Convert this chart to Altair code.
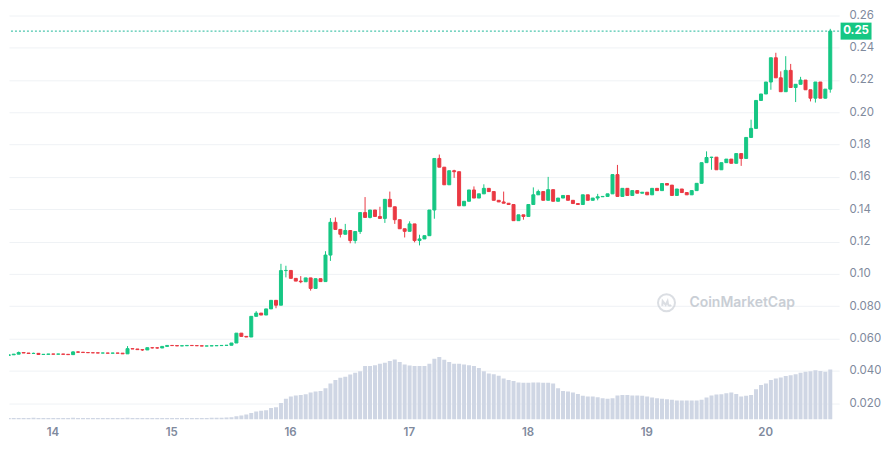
import altair as alt
import pandas as pd

# ---------------- data ----------------
start_day = 13.632          # day-of-month of the first hourly candle
open0 = 0.0495

close = [
    0.0499, 0.0503, 0.0513, 0.0510, 0.0507, 0.0508, 0.0501, 0.0502, 0.0504, 0.0503,
    0.0504, 0.0502, 0.0500, 0.0517, 0.0515, 0.0513, 0.0512, 0.0511, 0.0510, 0.0510,
    0.0509, 0.0510, 0.0509, 0.0505, 0.0537, 0.0535, 0.0531, 0.0529, 0.0543, 0.0542,
    0.0541, 0.0551, 0.0557, 0.0556, 0.0554, 0.0555, 0.0557, 0.0556, 0.0555, 0.0553,
    0.0554, 0.0555, 0.0556, 0.0557, 0.0558, 0.0572, 0.0633, 0.0613, 0.0609, 0.0737,
    0.0757, 0.0745, 0.0783, 0.0836, 0.0806, 0.1020, 0.1021, 0.0972, 0.0955, 0.0951,
    0.0975, 0.0910, 0.0970, 0.0952, 0.1116, 0.1319, 0.1275, 0.1245, 0.1268, 0.1206,
    0.1262, 0.1379, 0.1349, 0.1395, 0.1355, 0.1343, 0.1461, 0.1415, 0.1335, 0.1279,
    0.1263, 0.1309, 0.1206, 0.1216, 0.1236, 0.1395, 0.1714, 0.1660, 0.1551, 0.1638,
    0.1632, 0.1421, 0.1449, 0.1519, 0.1469, 0.1495, 0.1529, 0.1509, 0.1455, 0.1445,
    0.1437, 0.1429, 0.1329, 0.1365, 0.1355, 0.1429, 0.1489, 0.1509, 0.1455, 0.1521,
    0.1449, 0.1469, 0.1485, 0.1455, 0.1435, 0.1429, 0.1489, 0.1455, 0.1469, 0.1477,
    0.1479, 0.1495, 0.1614, 0.1479, 0.1529, 0.1485, 0.1515, 0.1499, 0.1505, 0.1489,
    0.1529, 0.1515, 0.1559, 0.1549, 0.1485, 0.1525, 0.1503, 0.1489, 0.1515, 0.1560,
    0.1688, 0.1720, 0.1722, 0.1644, 0.1688, 0.1710, 0.1684, 0.1744, 0.1714, 0.1844,
    0.1900, 0.2073, 0.2113, 0.2187, 0.2337, 0.2213, 0.2127, 0.2259, 0.2153, 0.2173,
    0.2199, 0.2139, 0.2087, 0.2187, 0.2087, 0.2143, 0.2502,
]

wick_high = {
    2: 0.0519, 5: 0.0512, 13: 0.0521, 14: 0.0520, 24: 0.0553, 29: 0.0547,
    30: 0.0546, 50: 0.0769, 55: 0.1062, 56: 0.1050,
    59: 0.0986, 64: 0.1140, 65: 0.1345, 66: 0.1349, 68: 0.1309, 72: 0.1475,
    75: 0.1415, 77: 0.1509, 81: 0.1325, 83: 0.1242, 87: 0.1738, 90: 0.1644,
    94: 0.1541, 96: 0.1554, 100: 0.1509, 106: 0.1535, 107: 0.1521, 109: 0.1600,
    119: 0.1495, 123: 0.1674, 141: 0.1758, 142: 0.1724, 150: 0.1954, 155: 0.2368,
    156: 0.2253, 157: 0.2347, 158: 0.2299, 160: 0.2219, 166: 0.2516,
}
wick_low = {
    5: 0.0504, 14: 0.0511, 27: 0.0523, 29: 0.0538, 30: 0.0537,
    54: 0.0787, 56: 0.0978, 59: 0.0942, 61: 0.0896, 65: 0.1080, 67: 0.1225,
    69: 0.1189, 70: 0.1188, 71: 0.1247, 73: 0.1343, 76: 0.1315, 78: 0.1309,
    80: 0.1225, 82: 0.1195, 83: 0.1176, 86: 0.1341, 90: 0.1594, 104: 0.1335,
    119: 0.1455, 142: 0.1644, 148: 0.1668, 154: 0.2139, 159: 0.2063, 162: 0.2067,
    163: 0.2060, 165: 0.2085, 166: 0.2121,
}

volume = [
    1.7, 1.7, 1.6, 1.7, 1.7, 1.8, 1.7, 1.7, 1.6, 1.7,
    1.7, 1.7, 1.7, 1.8, 1.7, 1.7, 1.7, 1.6, 1.7, 1.7,
    1.7, 1.7, 1.7, 1.7, 1.8, 1.7, 1.7, 1.7, 1.7, 1.7,
    1.7, 1.7, 1.7, 1.7, 1.7, 1.7, 1.7, 1.7, 1.7, 1.7,
    1.7, 1.8, 1.8, 1.9, 2.0, 2.4, 3.4, 4.1, 5.1, 6.8,
    8.2, 9.2, 9.5, 11.9, 12.6, 17.0, 21.4, 23.8, 24.8, 25.5,
    26.2, 27.9, 28.9, 29.6, 32.3, 37.4, 40.8, 43.2, 44.2, 46.6,
    48.3, 50.0, 55.4, 55.4, 56.1, 57.8, 58.8, 60.5, 62.2, 59.5,
    56.8, 55.8, 55.4, 55.4, 55.4, 57.8, 62.9, 64.6, 61.9, 59.5,
    57.8, 57.8, 56.8, 56.1, 55.4, 53.4, 50.0, 47.6, 46.9, 45.2,
    42.5, 40.8, 39.8, 38.4, 38.1, 38.1, 38.4, 38.4, 38.1, 38.1,
    37.4, 32.3, 29.6, 28.9, 27.9, 26.5, 24.5, 23.8, 23.8, 23.1,
    22.1, 21.4, 22.1, 24.8, 25.5, 25.5, 24.8, 24.8, 24.5, 23.8,
    22.8, 22.1, 21.4, 21.1, 20.4, 19.7, 19.7, 19.7, 19.7, 19.7,
    20.4, 22.8, 24.8, 25.9, 26.2, 27.2, 27.9, 26.5, 23.8, 24.5,
    25.5, 31.3, 35.7, 37.4, 40.8, 42.5, 43.5, 44.9, 45.9, 46.9,
    48.3, 49.3, 50.0, 51.0, 50.3, 49.3, 51.7,
]

last_price = 0.2502
y_ticks = [0.02, 0.04, 0.06, 0.08, 0.1, 0.12, 0.14, 0.16, 0.18, 0.2, 0.22, 0.24, 0.26]
x_ticks = [14, 15, 16, 17, 18, 19, 20]
watermark = "CoinMarketCap"

if len(close) != len(volume):
    raise SystemExit(f"length mismatch close={len(close)} volume={len(volume)}")

# ---------------- table ----------------
opens = [open0] + close[:-1]
rows = []
for k, (o, c, v) in enumerate(zip(opens, close, volume)):
    hi = max(wick_high.get(k, max(o, c)), o, c)
    lo = min(wick_low.get(k, min(o, c)), o, c)
    rows.append(dict(day=start_day + k / 24.0, open=o, close=c, high=hi, low=lo,
                     dir="up" if c >= o else "down", vol=v))
df = pd.DataFrame(rows)

W, H = 832, 412
GREEN, RED = "#16c784", "#ea3943"
GRAY = "#808a9d"
FONT = "Inter"

xenc = alt.X("day:Q",
             scale=alt.Scale(domain=[13.676, 20.581], nice=False, zero=False),
             axis=alt.Axis(values=x_ticks, tickCount=len(x_ticks) + 5, format="d",
                           grid=False, domain=False,
                           ticks=False, labelPadding=7, labelFontSize=11.5,
                           labelFontWeight=600, labelColor=GRAY, labelFont=FONT,
                           title=None))
pscale = alt.Scale(domain=[0.00983, 0.2642], nice=False, zero=False)
paxis = alt.Axis(orient="right", values=y_ticks, tickCount=len(y_ticks) + 5,
                 labelExpr="datum.value < 0.099 ? format(datum.value, '.3f') : format(datum.value, '.2f')",
                 labelOverlap=False, labelBound=False,
                 grid=True, gridColor="#eff2f5", gridWidth=1, domain=False, ticks=False,
                 labelPadding=10, labelFontSize=11.5, labelColor=GRAY, labelFont=FONT,
                 title=None)
cscale = alt.Scale(domain=["up", "down"], range=[GREEN, RED])

base = alt.Chart(df)

vol = base.mark_bar(size=4, color="#cfd6e4", clip=True).encode(
    x=xenc,
    y=alt.Y("vol:Q", scale=alt.Scale(domain=[0, 425], nice=False), axis=None),
)

wick = base.mark_rule(strokeWidth=1, clip=True).encode(
    x=xenc,
    y=alt.Y("low:Q", scale=pscale, axis=paxis),
    y2="high:Q",
    color=alt.Color("dir:N", scale=cscale, legend=None),
)

body = base.mark_bar(size=3.0, strokeWidth=1.0, clip=True).encode(
    x=xenc,
    y=alt.Y("open:Q", scale=pscale),
    y2="close:Q",
    fill=alt.Fill("dir:N", scale=cscale, legend=None),
    stroke=alt.Stroke("dir:N", scale=cscale, legend=None),
)

last_df = pd.DataFrame({"price": [last_price]})
rule = alt.Chart(last_df).mark_rule(strokeDash=[2, 2], strokeWidth=1, color="#1fb89a").encode(
    y=alt.Y("price:Q", scale=pscale),
)
box = alt.Chart(last_df).mark_point(
    shape="M-1,-0.55H1V0.55H-1Z", size=961, filled=True, opacity=1, color=GREEN, clip=False
).encode(x=alt.value(W + 17), y=alt.Y("price:Q", scale=pscale))
box_txt = alt.Chart(last_df).mark_text(
    color="white", fontWeight="bold", fontSize=11.5, font=FONT, align="center", baseline="middle"
).encode(x=alt.value(W + 17), y=alt.Y("price:Q", scale=pscale),
         text=alt.Text("price:Q", format=".2f"))

wm_df = pd.DataFrame({"t": [watermark]})
wm_ring = alt.Chart(wm_df).mark_point(
    shape="circle", filled=False, size=289, strokeWidth=2, color="#ccd1d8"
).encode(x=alt.value(659), y=alt.value(295))
wm_m = alt.Chart(wm_df).mark_point(
    shape="M-0.5,0.35L-0.45,-0.2L-0.1,0.25L0.12,-0.2L0.18,0.15Q0.3,0.45 0.55,0.25",
    filled=False, size=289, strokeWidth=2, color="#ccd1d8"
).encode(x=alt.value(659), y=alt.value(295))
wm_txt = alt.Chart(wm_df).mark_text(
    font=FONT, fontSize=14, fontWeight=600, color="#c9ced5", align="left", baseline="middle"
).encode(x=alt.value(682), y=alt.value(295), text="t:N")

price = alt.layer(wick, body, rule, box, box_txt, wm_ring, wm_m, wm_txt)

chart = (
    alt.layer(vol, price)
    .resolve_scale(y="independent")
    .properties(width=W, height=H, padding={"left": 0, "top": 0, "right": 0, "bottom": 0},
                background="white")
    .configure_view(stroke=None)
)

chart.save("out.html", embed_options={"renderer": "svg", "actions": False})
